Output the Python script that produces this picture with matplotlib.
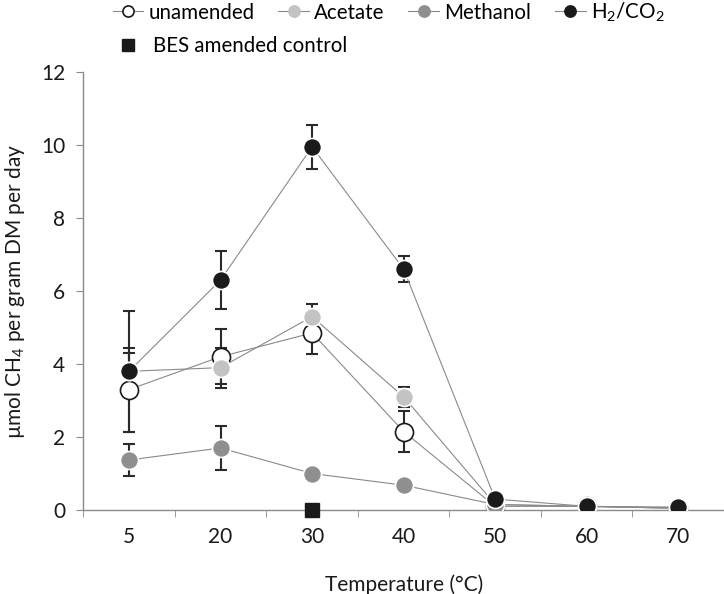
import matplotlib
matplotlib.use("Agg")
import matplotlib.pyplot as plt
from matplotlib.lines import Line2D
import numpy as np

plt.rcParams['font.family'] = ['Lato', 'DejaVu Sans']
plt.rcParams['mathtext.fontset'] = 'custom'
plt.rcParams['mathtext.rm'] = 'Lato'
plt.rcParams['mathtext.it'] = 'Lato:italic'
plt.rcParams['mathtext.bf'] = 'Lato:bold'
plt.rcParams['mathtext.default'] = 'regular'

temps = ["5", "20", "30", "40", "50", "60", "70"]
unamended = [3.3, 4.2, 4.85, 2.15, 0.1, 0.1, 0.05]
unamended_err = [1.15, 0.75, 0.58, 0.55, 0.0, 0.0, 0.0]
acetate = [3.8, 3.9, 5.3, 3.1, 0.15, 0.1, 0.05]
acetate_err = [0.5, 0.55, 0.35, 0.27, 0.0, 0.0, 0.0]
methanol = [1.37, 1.7, 1.0, 0.68, 0.15, 0.1, 0.05]
methanol_err = [0.43, 0.6, 0.0, 0.0, 0.0, 0.0, 0.0]
h2co2 = [3.8, 6.3, 9.95, 6.6, 0.3, 0.1, 0.08]
h2co2_err = [1.65, 0.8, 0.6, 0.35, 0.0, 0.0, 0.0]
bes_temp = ["30"]
bes = [0.0]

fig = plt.figure(figsize=(7.24, 5.94), dpi=100)
ax = fig.add_axes([0.115, 0.1414, 0.885, 0.7374])

x = np.arange(len(temps))
series = [
    ("unamended", unamended, unamended_err, "white", "#1a1a1a"),
    ("Acetate", acetate, acetate_err, "#c3c3c3", "white"),
    ("Methanol", methanol, methanol_err, "#8f8f8f", "white"),
    ("H$_2$/CO$_2$", h2co2, h2co2_err, "#1a1a1a", "white"),
]

for name, vals, err, fc, ec in series:
    ax.errorbar(x, vals, yerr=err, fmt='none', ecolor='#2a2a2a', elinewidth=1.5,
                capsize=4, capthick=1.5, zorder=2)
for i, (name, vals, err, fc, ec) in enumerate(series):
    ax.plot(x, vals, '-', color='#8a8a8a', lw=0.8, zorder=3 + i)
    ax.plot(x, vals, 'o', markersize=13, markerfacecolor=fc, markeredgecolor=ec,
            markeredgewidth=1.2, linestyle='none', zorder=3 + i)

bx = [temps.index(t) for t in bes_temp]
ax.plot(bx, bes, 's', color='#1a1a1a', markersize=10, zorder=10, clip_on=False)

ax.set_xlim(-0.5, len(temps) - 0.5)
ax.set_ylim(0, 12)
ax.set_yticks(np.arange(0, 13, 2))
ax.set_xticks(x)
ax.set_xticklabels(temps)
ax.set_xticks(np.arange(-0.5, len(temps) - 0.4, 1), minor=True)
ax.tick_params(axis='x', which='major', length=0, pad=12, labelsize=15, colors='#1a1a1a')
ax.tick_params(axis='x', which='minor', length=5, color='#8a8a8a', direction='out')
ax.tick_params(axis='y', length=5, color='#8a8a8a', direction='out', labelsize=15,
               colors='#1a1a1a', pad=8)
for lbl in ax.get_yticklabels():
    lbl.set_color('#1a1a1a')
for s in ['top', 'right']:
    ax.spines[s].set_visible(False)
for s in ['left', 'bottom']:
    ax.spines[s].set_color('#8a8a8a')
    ax.spines[s].set_linewidth(1)

ax.set_xlabel("Temperature (°C)", fontsize=15, color='#1a1a1a', labelpad=20)
ax.set_ylabel("µmol CH$_4$ per gram DM per day", fontsize=15, color='#1a1a1a', labelpad=10)

handles = []
for name, vals, err, fc, ec in series:
    handles.append(Line2D([0], [0], color='#8a8a8a', lw=0.8, marker='o', markersize=8,
                          markerfacecolor=fc,
                          markeredgecolor=('#1a1a1a' if fc == 'white' else fc),
                          markeredgewidth=1.2))
leg1 = fig.legend(handles, [s[0] for s in series], loc='upper left',
                  bbox_to_anchor=(0.13, 1.03), ncol=4, frameon=False, fontsize=14.8,
                  handlelength=1.5, handletextpad=0.25, columnspacing=1.15)
bes_handle = Line2D([0], [0], color='#1a1a1a', lw=0, marker='s', markersize=9)
leg2 = fig.legend([bes_handle], ["BES amended control"], loc='upper left',
                  bbox_to_anchor=(0.13, 0.970), frameon=False, fontsize=14.8,
                  handlelength=1.5, handletextpad=0.45)

fig.savefig("out.png", dpi=100)
